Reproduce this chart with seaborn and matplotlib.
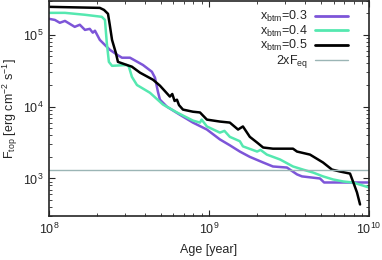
import numpy as np
import pandas as pd
import seaborn as sns
import matplotlib
matplotlib.use("Agg")
import matplotlib.pyplot as plt
from matplotlib.lines import Line2D
from matplotlib.ticker import LogLocator, NullFormatter

# ---- data ----
age_03 = [1.00e8, 1.09e8, 1.17e8, 1.26e8, 1.45e8, 1.56e8, 1.68e8, 1.80e8, 1.88e8, 1.94e8,
          2.08e8, 2.30e8, 2.40e8, 2.66e8, 2.86e8, 3.21e8, 3.87e8, 4.40e8, 4.60e8, 4.80e8,
          4.94e8, 5.46e8, 6.59e8, 7.94e8, 9.71e8, 1.17e9, 1.35e9, 1.56e9, 1.80e9, 2.18e9,
          2.51e9, 3.07e9, 3.55e9, 3.81e9, 4.94e9, 5.24e9, 9.80e9]
f_03 = [1.67e5, 1.61e5, 1.47e5, 1.56e5, 1.29e5, 1.38e5, 1.17e5, 1.21e5, 1.07e5, 1.14e5,
        8.5e4, 6.8e4, 6.2e4, 5.3e4, 4.8e4, 4.8e4, 3.8e4, 3.06e4, 2.53e4, 1.61e4,
        1.25e4, 1.0e4, 7.7e3, 6.0e3, 4.8e3, 3.5e3, 2.9e3, 2.37e3, 2.0e3, 1.67e3,
        1.47e3, 1.42e3, 1.14e3, 1.07e3, 1.0e3, 880, 880]

age_04 = [1.00e8, 1.26e8, 1.68e8, 2.14e8, 2.24e8, 2.30e8, 2.37e8, 2.48e8, 3.07e8, 3.16e8,
          3.30e8, 3.55e8, 4.28e8, 5.16e8, 6.31e8, 7.94e8, 8.79e8, 9.00e8, 9.71e8, 1.17e9,
          1.25e9, 1.35e9, 1.56e9, 1.63e9, 2.00e9, 2.10e9, 2.30e9, 2.78e9, 3.35e9, 3.87e9,
          4.47e9, 5.16e9, 5.96e9, 6.88e9, 7.94e9, 1.00e10]
f_04 = [2.02e5, 2.02e5, 1.90e5, 1.78e5, 1.61e5, 7.7e4, 4.2e4, 3.7e4, 3.8e4, 3.6e4,
        2.6e4, 2.0e4, 1.56e4, 1.07e4, 8.3e3, 6.4e3, 6.0e3, 6.6e3, 5.3e3, 4.35e3,
        4.6e3, 3.8e3, 3.3e3, 2.8e3, 2.37e3, 2.5e3, 2.15e3, 1.84e3, 1.47e3, 1.33e3,
        1.21e3, 1.07e3, 970, 910, 880, 750]

age_05 = [1.00e8, 2.08e8, 2.21e8, 2.34e8, 2.40e8, 2.48e8, 2.62e8, 2.70e8, 3.07e8, 3.30e8,
          3.71e8, 4.47e8, 4.94e8, 5.70e8, 5.90e8, 6.10e8, 6.31e8, 6.50e8, 6.88e8, 7.94e8,
          8.79e8, 9.71e8, 1.17e9, 1.35e9, 1.52e9, 1.63e9, 1.80e9, 2.00e9, 2.18e9, 2.51e9,
          3.35e9, 3.55e9, 4.28e9, 5.16e9, 5.87e9, 6.59e9, 7.61e9, 7.94e9, 8.41e9, 8.79e9]
f_05 = [2.45e5, 2.37e5, 2.22e5, 1.96e5, 1.38e5, 8.5e4, 5.6e4, 4.2e4, 3.8e4, 3.6e4,
        2.97e4, 2.37e4, 1.96e4, 1.38e4, 1.5e4, 1.2e4, 1.25e4, 1.05e4, 9.1e3, 8.5e3,
        8.3e3, 6.6e3, 6.2e3, 6.0e3, 4.8e3, 5.3e3, 3.8e3, 3.16e3, 2.7e3, 2.6e3,
        2.6e3, 2.37e3, 2.15e3, 1.67e3, 1.33e3, 1.25e3, 1.17e3, 910, 640, 435]

f_eq2 = 1.3e3
labels = ["x$_{\\rm btm}$=0.3", "x$_{\\rm btm}$=0.4", "x$_{\\rm btm}$=0.5"]
colors = ["#7d55d8", "#55e8b0", "#000000"]

df = pd.concat([
    pd.DataFrame({"age": age_03, "F": f_03, "series": labels[0]}),
    pd.DataFrame({"age": age_04, "F": f_04, "series": labels[1]}),
    pd.DataFrame({"age": age_05, "F": f_05, "series": labels[2]}),
])

sns.set_style("ticks")
plt.rcParams["font.family"] = ["Liberation Sans", "DejaVu Sans"]
plt.rcParams["mathtext.fontset"] = "custom"
plt.rcParams["mathtext.rm"] = "Liberation Sans"
plt.rcParams["mathtext.it"] = "Liberation Sans:italic"

fig = plt.figure(figsize=(3.82, 2.60), dpi=100)
ax = fig.add_axes([0.128, 0.169, 0.838, 0.829])

sns.lineplot(data=df, x="age", y="F", hue="series", palette=dict(zip(labels, colors)),
             estimator=None, sort=False, linewidth=1.8, ax=ax, legend=False)
ax.axhline(f_eq2, color="#9bb5b5", linewidth=1.0)

ax.set_xscale("log")
ax.set_yscale("log")
ax.set_xlim(1e8, 1e10)
ax.set_ylim(300, 3e5)

ax.xaxis.set_major_locator(LogLocator(base=10, numticks=10))
ax.xaxis.set_minor_locator(LogLocator(base=10, subs=np.arange(2, 10), numticks=20))
ax.yaxis.set_major_locator(LogLocator(base=10, numticks=10))
ax.yaxis.set_minor_locator(LogLocator(base=10, subs=np.arange(2, 10), numticks=20))
ax.xaxis.set_minor_formatter(NullFormatter())
ax.yaxis.set_minor_formatter(NullFormatter())
ax.tick_params(which="both", direction="in", top=True, right=True, labelsize=9, pad=4)
ax.tick_params(which="major", length=4, width=0.8)
ax.tick_params(which="minor", length=2, width=0.6)
for s in ax.spines.values():
    s.set_linewidth(1.2)

ax.set_xlabel("Age [year]", fontsize=9, labelpad=5)
ax.set_ylabel("F$_{\\rm top}$ [erg cm$^{-2}$ s$^{-1}$]", fontsize=9, labelpad=2)

handles = [Line2D([], [], color=c, lw=2) for c in colors]
leg1 = ax.legend(handles, labels, loc="upper right", frameon=False, markerfirst=False,
                 fontsize=9, handlelength=2.6, handletextpad=0.6, labelspacing=-0.05,
                 borderaxespad=0.2, bbox_to_anchor=(0.957, 0.995))
ax.add_artist(leg1)
leg2 = ax.legend([Line2D([], [], color="#9bb5b5", lw=1.0)], ["2xF$_{\\rm eq}$"],
                 loc="upper right", frameon=False, markerfirst=False, fontsize=9,
                 handlelength=2.6, handletextpad=0.6, borderaxespad=0.2,
                 bbox_to_anchor=(0.957, 0.79))

fig.savefig("out.png", dpi=100)
